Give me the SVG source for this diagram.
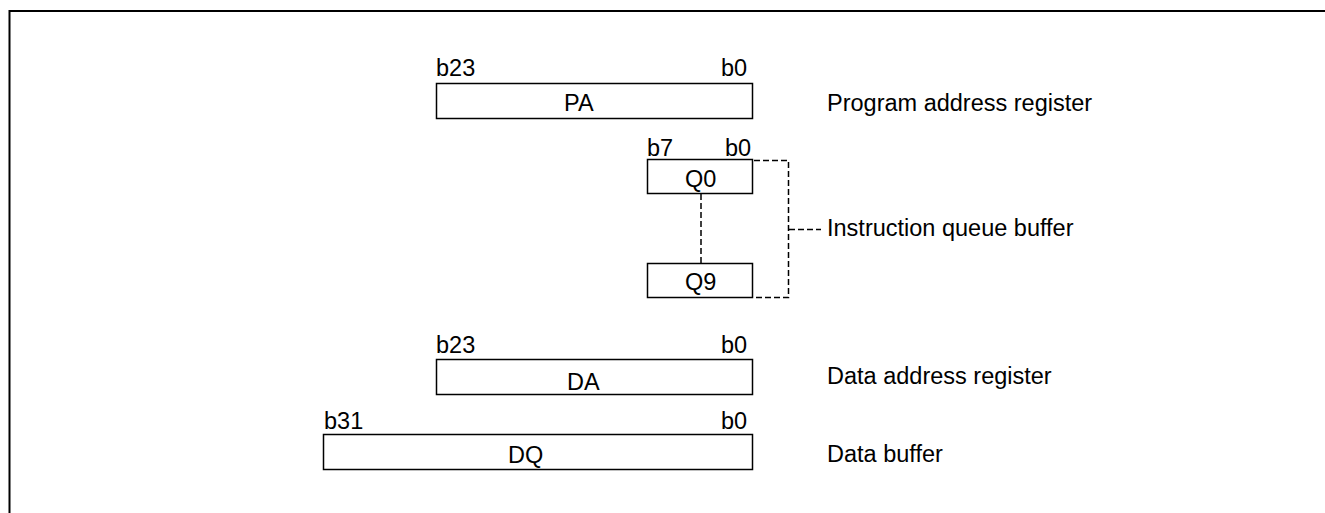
<svg xmlns="http://www.w3.org/2000/svg" width="1325" height="513" viewBox="0 0 1325 513">
<style>
text{font-family:"Liberation Sans",Arial,sans-serif;font-size:23.5px;fill:#000}
.box{fill:#fff;stroke:#000;stroke-width:1.5}
.dash{fill:none;stroke:#000;stroke-width:1.5;stroke-dasharray:6,3}
</style>
<rect width="1325" height="513" fill="#fff"/>
<path d="M9.5,513 V11 H1325" fill="none" stroke="#000" stroke-width="2"/>
<g id="PA">
<rect class="box" x="436.5" y="83.5" width="316" height="35"/>
<text x="436" y="76">b23</text>
<text x="721" y="76">b0</text>
<text x="564" y="111">PA</text>
<text x="827" y="111">Program address register</text>
</g>
<g id="Q0">
<rect class="box" x="647.5" y="159.5" width="105" height="34"/>
<text x="647" y="156">b7</text>
<text x="725" y="156">b0</text>
<text x="685" y="187">Q0</text>
</g>
<g id="Q9">
<rect class="box" x="647.5" y="263.5" width="105" height="34"/>
<text x="685" y="290">Q9</text>
</g>
<g id="IQB">
<text x="827" y="236">Instruction queue buffer</text>
</g>
<g id="DA">
<rect class="box" x="436.5" y="359.5" width="316" height="35"/>
<text x="436" y="353">b23</text>
<text x="721" y="353">b0</text>
<text x="567" y="390">DA</text>
<text x="827" y="384">Data address register</text>
</g>
<g id="DQ">
<rect class="box" x="323.5" y="434.5" width="429" height="35"/>
<text x="324" y="429">b31</text>
<text x="721" y="429">b0</text>
<text x="508" y="463">DQ</text>
<text x="827" y="462">Data buffer</text>
</g>
<g id="connectors">
<path class="dash" d="M701,194 V263"/>
<path class="dash" d="M754,160.5 H788.5 V297.5 H754"/>
<path class="dash" d="M789,229.5 H821"/>
</g>
</svg>
